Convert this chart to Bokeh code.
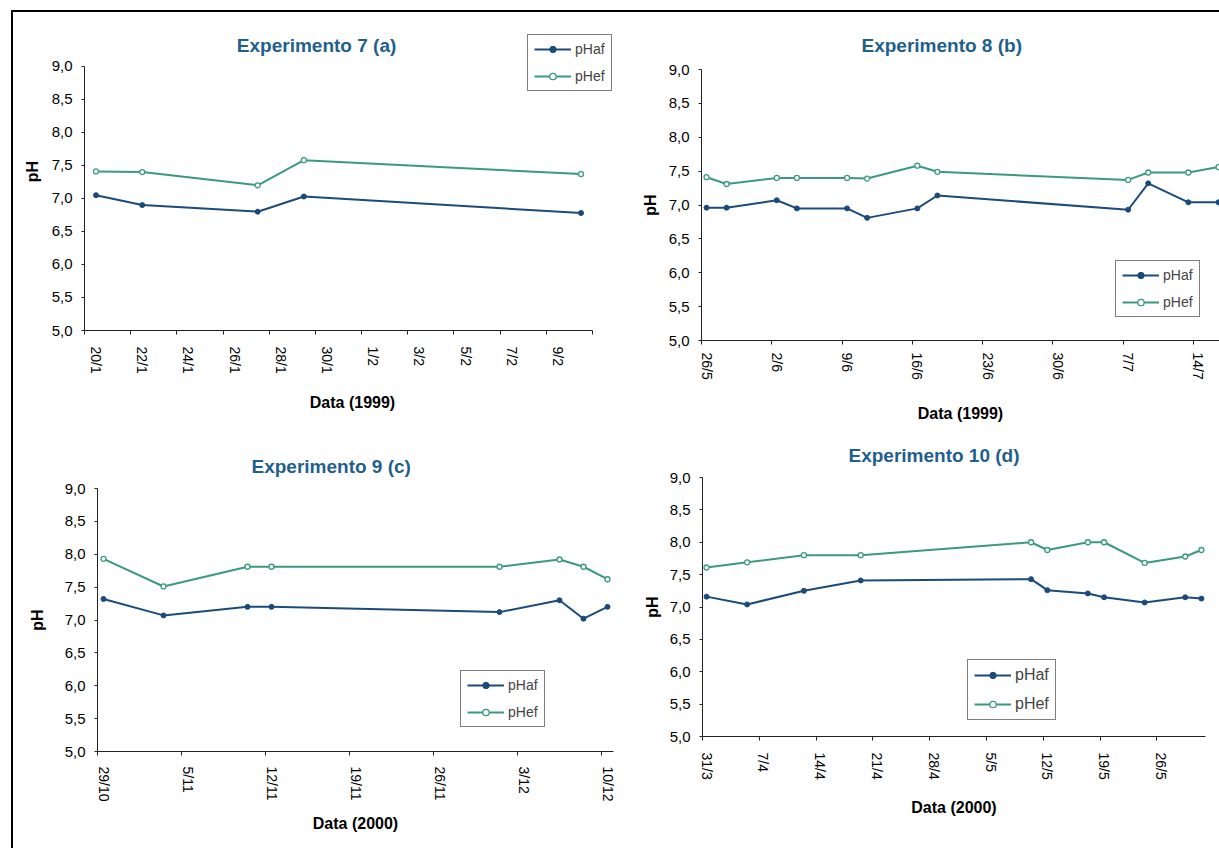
from bokeh.plotting import figure
from bokeh.layouts import column, row
from bokeh.models import FixedTicker, Range1d, Legend, LegendItem, Label
from bokeh.embed import file_html
from bokeh.resources import INLINE
import pandas as pd

# ---------------- data ----------------
# Experimento 7 (a), 1999
exp7_dates = ["1999-01-20", "1999-01-22", "1999-01-27", "1999-01-29", "1999-02-10"]
exp7_phaf = [7.05, 6.90, 6.80, 7.03, 6.78]
exp7_phef = [7.41, 7.40, 7.20, 7.58, 7.37]
exp7_start = "1999-01-20"
exp7_ticks = ["20/1", "22/1", "24/1", "26/1", "28/1", "30/1", "1/2", "3/2", "5/2", "7/2", "9/2"]

# Experimento 8 (b), 1999
exp8_dates = ["1999-05-26", "1999-05-28", "1999-06-02", "1999-06-04", "1999-06-09", "1999-06-11",
              "1999-06-16", "1999-06-18", "1999-07-07", "1999-07-09", "1999-07-13", "1999-07-16"]
exp8_phaf = [6.96, 6.96, 7.07, 6.95, 6.95, 6.81, 6.95, 7.14, 6.93, 7.32, 7.04, 7.04]
exp8_phef = [7.41, 7.31, 7.40, 7.40, 7.40, 7.39, 7.58, 7.49, 7.37, 7.48, 7.48, 7.56]
exp8_start = "1999-05-26"
exp8_ticks = ["26/5", "2/6", "9/6", "16/6", "23/6", "30/6", "7/7", "14/7"]

# Experimento 9 (c), 2000
exp9_dates = ["2000-10-29", "2000-11-03", "2000-11-10", "2000-11-12", "2000-12-01",
              "2000-12-06", "2000-12-08", "2000-12-10"]
exp9_phaf = [7.32, 7.07, 7.20, 7.20, 7.12, 7.30, 7.02, 7.20]
exp9_phef = [7.93, 7.51, 7.81, 7.81, 7.81, 7.92, 7.81, 7.62]
exp9_start = "2000-10-29"
exp9_ticks = ["29/10", "5/11", "12/11", "19/11", "26/11", "3/12", "10/12"]

# Experimento 10 (d), 2000
exp10_dates = ["2000-03-31", "2000-04-05", "2000-04-12", "2000-04-19", "2000-05-10", "2000-05-12",
               "2000-05-17", "2000-05-19", "2000-05-24", "2000-05-29", "2000-05-31"]
exp10_phaf = [7.16, 7.04, 7.25, 7.41, 7.43, 7.26, 7.21, 7.15, 7.07, 7.15, 7.13]
exp10_phef = [7.61, 7.69, 7.80, 7.80, 8.00, 7.88, 8.00, 8.00, 7.68, 7.78, 7.88]
exp10_start = "2000-03-31"
exp10_ticks = ["31/3", "7/4", "14/4", "21/4", "28/4", "5/5", "12/5", "19/5", "26/5"]

y_ticks = [5.0, 5.5, 6.0, 6.5, 7.0, 7.5, 8.0, 8.5, 9.0]
y_tick_labels = ["5,0", "5,5", "6,0", "6,5", "7,0", "7,5", "8,0", "8,5", "9,0"]

# ---------------- styling ----------------
FONT = "Liberation Sans"
C_AF = "#1b4b7a"
C_EF = "#3a9a80"
C_TITLE = "#1f5f8d"
TITLE_SIZE = "19px"


def panel(title, dates, start, phaf, phef, tick_labels, step, n_slots, xlabel,
          width, height, borders, title_spec,
          xlab_standoff, xtick_standoff, ylab_standoff, legend_loc, legend_font,
          y_top=9.0, x_end=None):
    left, right, top, bottom = borders
    x_end = n_slots if x_end is None else x_end
    p = figure(width=width, height=height,
               x_range=Range1d(0, x_end), y_range=Range1d(5, y_top),
               output_backend="svg", toolbar_location=None,
               min_border_left=left, min_border_right=right,
               min_border_top=top, min_border_bottom=bottom,
               frame_align=False)
    p.outline_line_color = None
    p.background_fill_color = "white"
    p.border_fill_color = "white"
    p.xgrid.visible = False
    p.ygrid.visible = False

    # each day is one slot on the date axis; points sit in the middle of their slot
    x = ((pd.to_datetime(dates) - pd.Timestamp(start)).days + 0.5).tolist()

    label_pos = [i * step + 0.5 for i in range(len(tick_labels))]
    slot_edges = [i * step for i in range(int(n_slots // step) + 1)]

    xa = p.xaxis[0]
    xa.ticker = FixedTicker(ticks=label_pos, minor_ticks=slot_edges)
    xa.bounds = (0, n_slots)
    xa.major_label_overrides = {pos: lab for pos, lab in zip(label_pos, tick_labels)}
    xa.major_label_orientation = "vertical"
    xa.major_tick_out = 0
    xa.major_tick_in = 0
    xa.minor_tick_out = 4
    xa.minor_tick_in = 0
    xa.major_label_standoff = xtick_standoff
    xa.major_label_text_font_size = "14px"
    xa.axis_label = xlabel
    xa.axis_label_standoff = xlab_standoff

    ya = p.yaxis[0]
    ya.ticker = FixedTicker(ticks=y_ticks, minor_ticks=[])
    ya.bounds = (5, 9)
    ya.major_label_overrides = {v: s for v, s in zip(y_ticks, y_tick_labels)}
    ya.major_tick_out = 3
    ya.major_tick_in = 0
    ya.major_label_standoff = 9
    ya.major_label_text_font_size = "15px"
    ya.axis_label = "pH"
    ya.axis_label_standoff = ylab_standoff

    for ax in (xa, ya):
        ax.axis_line_color = "#222222"
        ax.major_tick_line_color = "#222222"
        ax.minor_tick_line_color = "#222222"
        ax.major_label_text_font = FONT
        ax.major_label_text_color = "black"
        ax.axis_label_text_font = FONT
        ax.axis_label_text_font_size = "16px"
        ax.axis_label_text_font_style = "bold"
        ax.axis_label_text_color = "black"

    if title_spec[0] == "inside":
        # title drawn inside the (enlarged) frame, above the plotted area
        _, tx, ty = title_spec
        p.add_layout(Label(x=tx, y=ty, text=title, text_align="center",
                           text_baseline="middle", text_font=FONT,
                           text_font_size=TITLE_SIZE, text_font_style="bold",
                           text_color=C_TITLE))
    else:
        _, offset, standoff = title_spec
        p.title.text = title
        p.title.align = "left"
        p.title.offset = offset
        p.title.standoff = standoff
        p.title.text_font = FONT
        p.title.text_font_size = TITLE_SIZE
        p.title.text_font_style = "bold"
        p.title.text_color = C_TITLE

    l1 = p.line(x, phaf, line_color=C_AF, line_width=2)
    s1 = p.scatter(x, phaf, marker="circle", size=5, fill_color=C_AF, line_color=C_AF)
    l2 = p.line(x, phef, line_color=C_EF, line_width=2)
    s2 = p.scatter(x, phef, marker="circle", size=5, fill_color="white",
                   line_color=C_EF, line_width=1.3)

    legend = Legend(items=[LegendItem(label="pHaf", renderers=[l1, s1]),
                           LegendItem(label="pHef", renderers=[l2, s2])],
                    location=legend_loc)
    legend.border_line_color = "black"
    legend.border_line_width = 1
    legend.background_fill_color = "white"
    legend.background_fill_alpha = 1
    legend.label_text_font = FONT
    legend.label_text_font_size = legend_font
    legend.glyph_width = 37
    legend.glyph_height = 16
    legend.label_standoff = 4
    legend.padding = 6
    legend.spacing = 11
    legend.margin = 0
    p.add_layout(legend)
    return p


# panel (a): the frame reaches the top and right edges of its cell so that the
# legend and title can sit above / right of the 22-day axis
pa = panel("Experimento 7 (a)", exp7_dates, exp7_start, exp7_phaf, exp7_phef,
           exp7_ticks, 2, 22, "Data (1999)",
           607, 418, (71, 0, 0, 100), ("inside", 10.05, 9.318),
           17, 12, 8, (443, 239), "14px", y_top=9.818, x_end=23.21)
pb = panel("Experimento 8 (b)", exp8_dates, exp8_start, exp8_phaf, exp8_phef,
           exp8_ticks, 7, 51.6, "Data (1999)",
           599, 418, (81, 0, 57, 90), ("above", 160, 28),
           22, 8, 7, (414, 23), "14px")
pc = panel("Experimento 9 (c)", exp9_dates, exp9_start, exp9_phaf, exp9_phef,
           exp9_ticks, 7, 43, "Data (2000)",
           607, 418, (84, 7, 58, 97), ("above", 154, 23),
           10, 11, 16, (363, 24), "14px")
pd_ = panel("Experimento 10 (d)", exp10_dates, exp10_start, exp10_phaf, exp10_phef,
            exp10_ticks, 7, 62, "Data (2000)",
            599, 418, (82, 14, 46, 112), ("above", 146, 24),
            16, 12, 6, (265, 16), "16px")

root = column(row(pa, pb), row(pc, pd_),
              margin=(10, 0, 0, 11),
              styles={"border-left": "2px solid black", "border-top": "2px solid black"})

with open("out.html", "w") as f:
    f.write(file_html(root, INLINE))
